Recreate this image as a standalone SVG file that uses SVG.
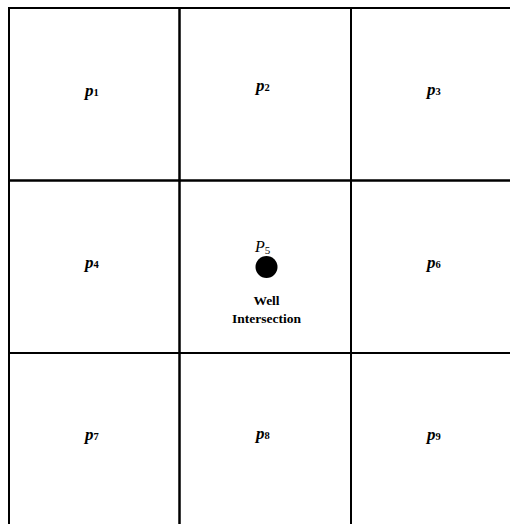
<svg xmlns="http://www.w3.org/2000/svg" width="510" height="524" viewBox="0 0 510 524">
<style>
.cell{fill:none;stroke:#000;stroke-width:2}
.lbl{font-family:"Liberation Serif",serif;font-style:italic;font-weight:bold;font-size:17px;fill:#000}
.sub{font-size:10.5px;font-style:normal}
.cap{font-family:"Liberation Serif",serif;font-weight:bold;font-size:13.5px;fill:#000;text-anchor:middle}
</style>
<rect width="510" height="524" fill="#fff"/>
<g id="cell1"><rect class="cell" x="9" y="8" width="170.5" height="172.5"/><text class="lbl" x="85" y="96">p<tspan class="sub">1</tspan></text></g>
<g id="cell2"><rect class="cell" x="179.5" y="8" width="171.5" height="172.5"/><text class="lbl" x="256" y="91">p<tspan class="sub">2</tspan></text></g>
<g id="cell3"><rect class="cell" x="351" y="8" width="200" height="172.5"/><text class="lbl" x="427" y="95">p<tspan class="sub">3</tspan></text></g>
<g id="cell4"><rect class="cell" x="9" y="180.5" width="170.5" height="172.5"/><text class="lbl" x="85" y="268">p<tspan class="sub">4</tspan></text></g>
<g id="cell5"><rect class="cell" x="179.5" y="180.5" width="171.5" height="172.5"/>
<text x="255" y="252" font-family="Liberation Serif, serif" font-style="italic" font-size="16">P<tspan font-size="11" font-style="normal" dy="2">5</tspan></text>
<circle cx="266.5" cy="267" r="11" fill="#000"/>
<text class="cap" x="266.5" y="305">Well</text>
<text class="cap" x="266.5" y="323">Intersection</text></g>
<g id="cell6"><rect class="cell" x="351" y="180.5" width="200" height="172.5"/><text class="lbl" x="427" y="268">p<tspan class="sub">6</tspan></text></g>
<g id="cell7"><rect class="cell" x="9" y="353" width="170.5" height="200"/><text class="lbl" x="85" y="440">p<tspan class="sub">7</tspan></text></g>
<g id="cell8"><rect class="cell" x="179.5" y="353" width="171.5" height="200"/><text class="lbl" x="256" y="439">p<tspan class="sub">8</tspan></text></g>
<g id="cell9"><rect class="cell" x="351" y="353" width="200" height="200"/><text class="lbl" x="427" y="440">p<tspan class="sub">9</tspan></text></g>
<g id="connectors"/>
</svg>
